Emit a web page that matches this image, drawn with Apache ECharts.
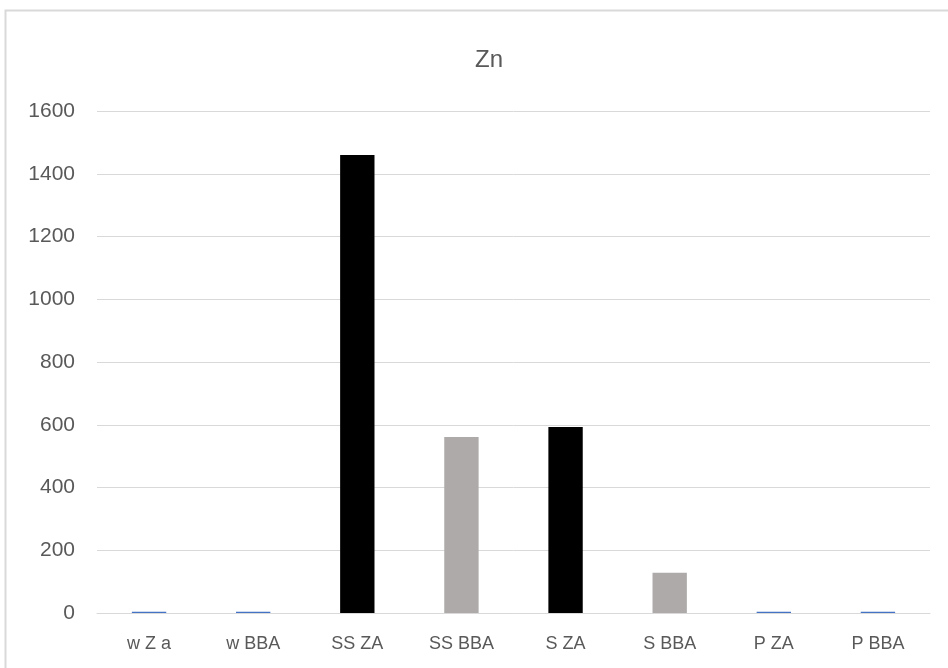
<!DOCTYPE html>
<html>
<head>
<meta charset="utf-8">
<script src="https://cdn.jsdelivr.net/npm/echarts@6/dist/echarts.min.js"></script>
<style>
html,body{margin:0;padding:0;background:#fff;}
#chart{width:948px;height:668px;}
</style>
</head>
<body>
<div id="chart"></div>
<script>
const categories = ['w Z a', 'w BBA', 'SS ZA', 'SS BBA', 'S ZA', 'S BBA', 'P ZA', 'P BBA'];
const values = [4, 4, 1460, 561, 593, 128, 4, 4];
const barColors = ['#4472C4', '#4472C4', '#000000', '#AEAAAA', '#000000', '#AEAAAA', '#4472C4', '#4472C4'];
const yTicks = [0, 200, 400, 600, 800, 1000, 1200, 1400, 1600];

const chart = echarts.init(document.getElementById('chart'), null, {renderer: 'canvas'});
chart.setOption({
  backgroundColor: '#ffffff',
  animation: false,
  graphic: [{
    type: 'rect',
    shape: {x: 5.5, y: 10.5, width: 1000, height: 1000},
    style: {fill: 'none', stroke: '#d9d9d9', lineWidth: 2},
    silent: true
  }],
  title: {
    text: 'Zn',
    left: 484, top: 43, textAlign: 'center',
    textStyle: {color: '#595959', fontSize: 24, fontWeight: 'normal', fontFamily: 'Liberation Sans'}
  },
  grid: {left: 97, right: 18, top: 111, bottom: 55, containLabel: false},
  xAxis: {
    type: 'category',
    data: categories,
    axisLine: {lineStyle: {color: '#d9d9d9', width: 1}},
    axisTick: {show: false},
    axisLabel: {color: '#595959', fontSize: 18, fontFamily: 'Liberation Sans Narrow, Liberation Sans', margin: 22}
  },
  yAxis: {
    type: 'value',
    min: yTicks[0], max: yTicks[yTicks.length - 1], interval: 200,
    axisLine: {show: false},
    axisTick: {show: false},
    splitLine: {lineStyle: {color: '#d9d9d9', width: 1}},
    axisLabel: {color: '#595959', fontSize: 21, fontFamily: 'Liberation Sans', margin: 22,
      formatter: v => String(v)}
  },
  series: [{
    type: 'bar',
    barWidth: '33%',
    data: values.map((v, i) => ({value: v, itemStyle: {color: barColors[i]}}))
  }]
});
</script>
</body>
</html>
